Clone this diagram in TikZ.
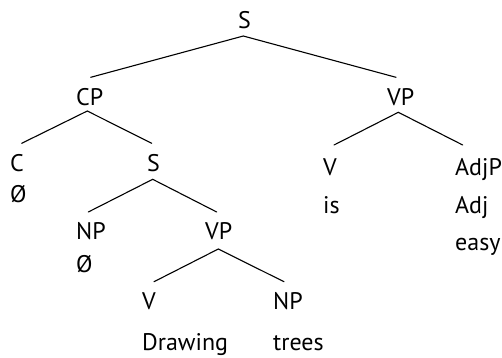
\documentclass[tikz,border=0pt]{standalone}
\usepackage{fontspec}
\setmainfont{PT Sans}
\begin{document}
\begin{tikzpicture}[x=1pt,y=1pt,
  lbl/.style={anchor=base west, inner sep=0pt, font=\fontsize{24}{28}\selectfont},
  edge/.style={line width=1.1pt, line cap=round}]
\useasboundingbox (0,0) rectangle (502,-357);
% labels
\node[lbl] (S0) at (238,-28) {S};
\node[lbl] (CP) at (76,-105) {CP};
\node[lbl] (VP1) at (387,-105) {VP};
\node[lbl] (C) at (10,-171.5) {C};
\node[lbl] (Cnull) at (10,-202) {Ø};
\node[lbl] (S1) at (147,-171.5) {S};
\node[lbl] (V1) at (323,-175.5) {V};
\node[lbl] (is) at (323,-213) {is};
\node[lbl] (AdjP) at (455,-175.5) {AdjP};
\node[lbl] (Adj) at (455,-213) {Adj};
\node[lbl] (easy) at (455,-250) {easy};
\node[lbl] (NP1) at (76,-239) {NP};
\node[lbl] (NPnull) at (76,-272) {Ø};
\node[lbl] (VP2) at (205,-239) {VP};
\node[lbl] (V2) at (142,-309) {V};
\node[lbl] (NP2) at (273,-309) {NP};
\node[lbl] (Drawing) at (142,-350.5) {Drawing};
\node[lbl] (trees) at (273,-350.5) {trees};
% connectors
\draw[edge] ([xshift=14.7pt,yshift=27.7pt]CP.base west) -- ([xshift=5.3pt,yshift=-8pt]S0.base west) -- ([xshift=9pt,yshift=27.7pt]VP1.base west);
\draw[edge] ([xshift=11.7pt,yshift=28.2pt]C.base west) -- ([xshift=11.3pt,yshift=-6pt]CP.base west) -- ([xshift=4.7pt,yshift=28.2pt]S1.base west);
\draw[edge] ([xshift=11pt,yshift=30.5pt]V1.base west) -- ([xshift=11.3pt,yshift=-7.3pt]VP1.base west) -- ([xshift=7.7pt,yshift=30.5pt]AdjP.base west);
\draw[edge] ([xshift=12.3pt,yshift=27pt]NP1.base west) -- ([xshift=5.7pt,yshift=-7.8pt]S1.base west) -- ([xshift=11.7pt,yshift=27pt]VP2.base west);
\draw[edge] ([xshift=12pt,yshift=27.3pt]V2.base west) -- ([xshift=13.3pt,yshift=-10pt]VP2.base west) -- ([xshift=11pt,yshift=27.3pt]NP2.base west);
\end{tikzpicture}
\end{document}
